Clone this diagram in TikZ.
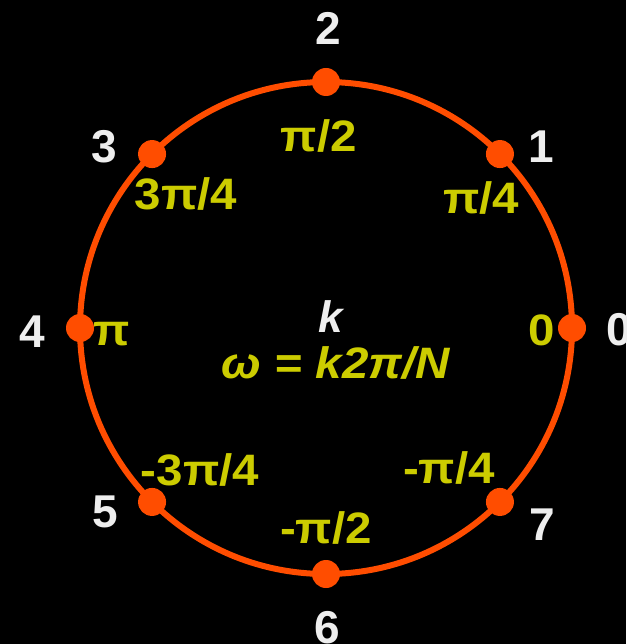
\documentclass[tikz,border=0pt]{standalone}
\usepackage{fontspec}
\usetikzlibrary{calc}
\setmainfont{Liberation Sans}
\newfontfamily\yfont[FakeStretch=1.08]{Liberation Sans}
\definecolor{ring}{RGB}{255,77,0}
\definecolor{ylab}{RGB}{204,204,0}
\definecolor{wlab}{RGB}{238,238,238}
\begin{document}
\begin{tikzpicture}[x=1pt,y=-1pt,
  num/.style={text=wlab,inner sep=0pt,anchor=base,font=\fontsize{46}{46}\selectfont\bfseries},
  ang/.style={text=ylab,inner sep=0pt,anchor=base,font=\yfont\fontsize{44}{44}\selectfont\bfseries},
  dot/.style={circle,fill=ring,inner sep=0pt,minimum size=28pt}]
\fill[black] (0,0) rectangle (626,644);
\useasboundingbox (0,0) rectangle (626,644);
\coordinate (c) at (326,328);
\draw[ring,line width=6pt] (c) circle[radius=246];
\foreach \i in {0,...,7}{
  \node[dot] (d\i) at ($(c)+({\i*45}:246 and -246)$) {};
}
\node[num] (n2) at (328,45) {2};
\node[num] (n1) at (541,163) {1};
\node[num] (n3) at (104,163) {3};
\node[num] (n4) at (32,347) {4};
\node[num] (n0) at (619,345) {0};
\node[num] (n5) at (105,527) {5};
\node[num] (n6) at (327,643) {6};
\node[num] (n7) at (542,540) {7};
\node[ang] (a2) at (319,152) {π/2};
\node[ang] (a1) at (481,213) {π/4};
\node[ang] (a3) at (186,210) {3π/4};
\node[ang] (a4) at (112,345) {π};
\node[ang] (a0) at (542,345) {0};
\node[ang] (a5) at (200,485) {-3π/4};
\node[ang] (a7) at (449,483) {-π/4};
\node[ang] (a6) at (326,543) {-π/2};
\node[num,font=\fontsize{44}{44}\selectfont\bfseries\itshape] (k) at (331,332) {k};
\node[ang,font=\yfont\fontsize{44}{44}\selectfont\bfseries\itshape] (w) at (336,378) {ω = k2π/N};
\end{tikzpicture}
\end{document}
